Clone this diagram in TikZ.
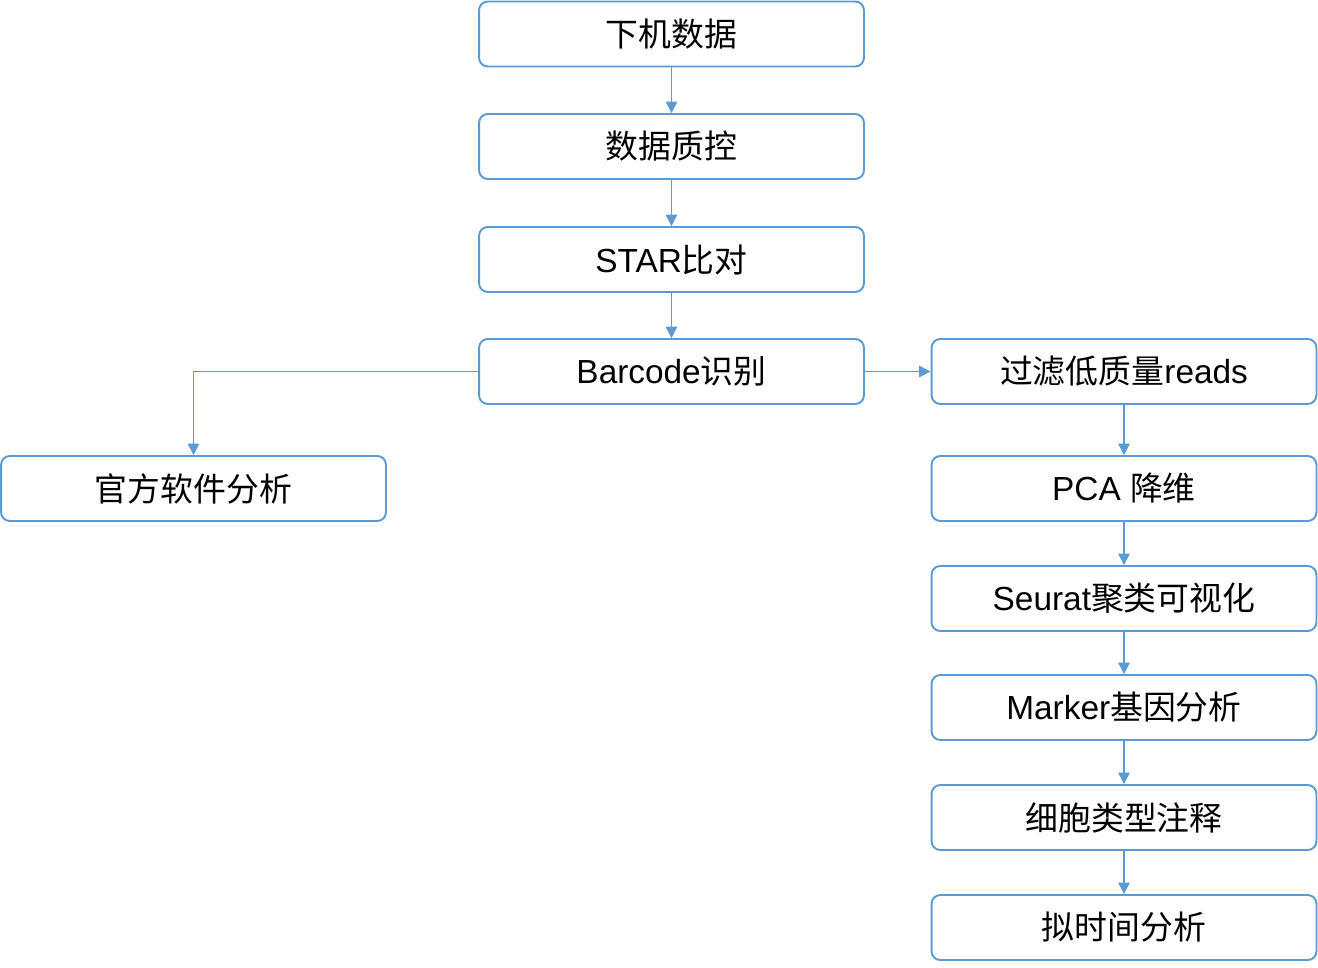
\documentclass[tikz,border=0pt]{standalone}
\usepackage{fontspec}
\setmainfont{Liberation Sans}
\newfontfamily\cjk{Noto Sans CJK SC}
\usetikzlibrary{arrows.meta}
\definecolor{bl}{HTML}{5B9BD5}
\tikzset{
  box/.style={draw=bl, line width=1.1pt, rounded corners=5pt, fill=white,
    minimum width=7.7cm, minimum height=1.3cm, inner sep=0pt,
    font=\fontsize{19pt}{21pt}\selectfont, text=black},
  conn/.style={draw=bl, line width=0.75pt, -{Triangle[width=6.5pt,length=6.5pt]}}
}
\newcommand{\zh}[1]{{\cjk\fontsize{18.7pt}{21pt}\selectfont #1}}
\begin{document}
\begin{tikzpicture}[x=0.02cm,y=-0.02cm]
\useasboundingbox (0,0) rectangle (1318,967);
\node[box] (a) at (671.5,34) {\zh{下机数据}};
\node[box] (b) at (671.5,146.5) {\zh{数据质控}};
\node[box] (c) at (671.5,259.5) {STAR\zh{比对}};
\node[box] (d) at (671.5,371.5) {Barcode\zh{识别}};
\node[box] (e) at (193.5,488.5) {\zh{官方软件分析}};
\node[box] (f) at (1124,371.5) {\zh{过滤低质量}reads};
\node[box] (g) at (1124,488.5) {PCA \zh{降维}};
\node[box] (h) at (1124,598.5) {Seurat\zh{聚类可视化}};
\node[box] (i) at (1124,707.5) {Marker\zh{基因分析}};
\node[box] (j) at (1124,817.5) {\zh{细胞类型注释}};
\node[box] (k) at (1124,927.5) {\zh{拟时间分析}};
\draw[conn] (a) -- (b);
\draw[conn] (b) -- (c);
\draw[conn] (c) -- (d);
\draw[conn] (d.west) -| (e.north);
\draw[conn] (d) -- (f);
\draw[conn] (f) -- (g);
\draw[conn] (g) -- (h);
\draw[conn] (h) -- (i);
\draw[conn] (i) -- (j);
\draw[conn] (j) -- (k);
\end{tikzpicture}
\end{document}
